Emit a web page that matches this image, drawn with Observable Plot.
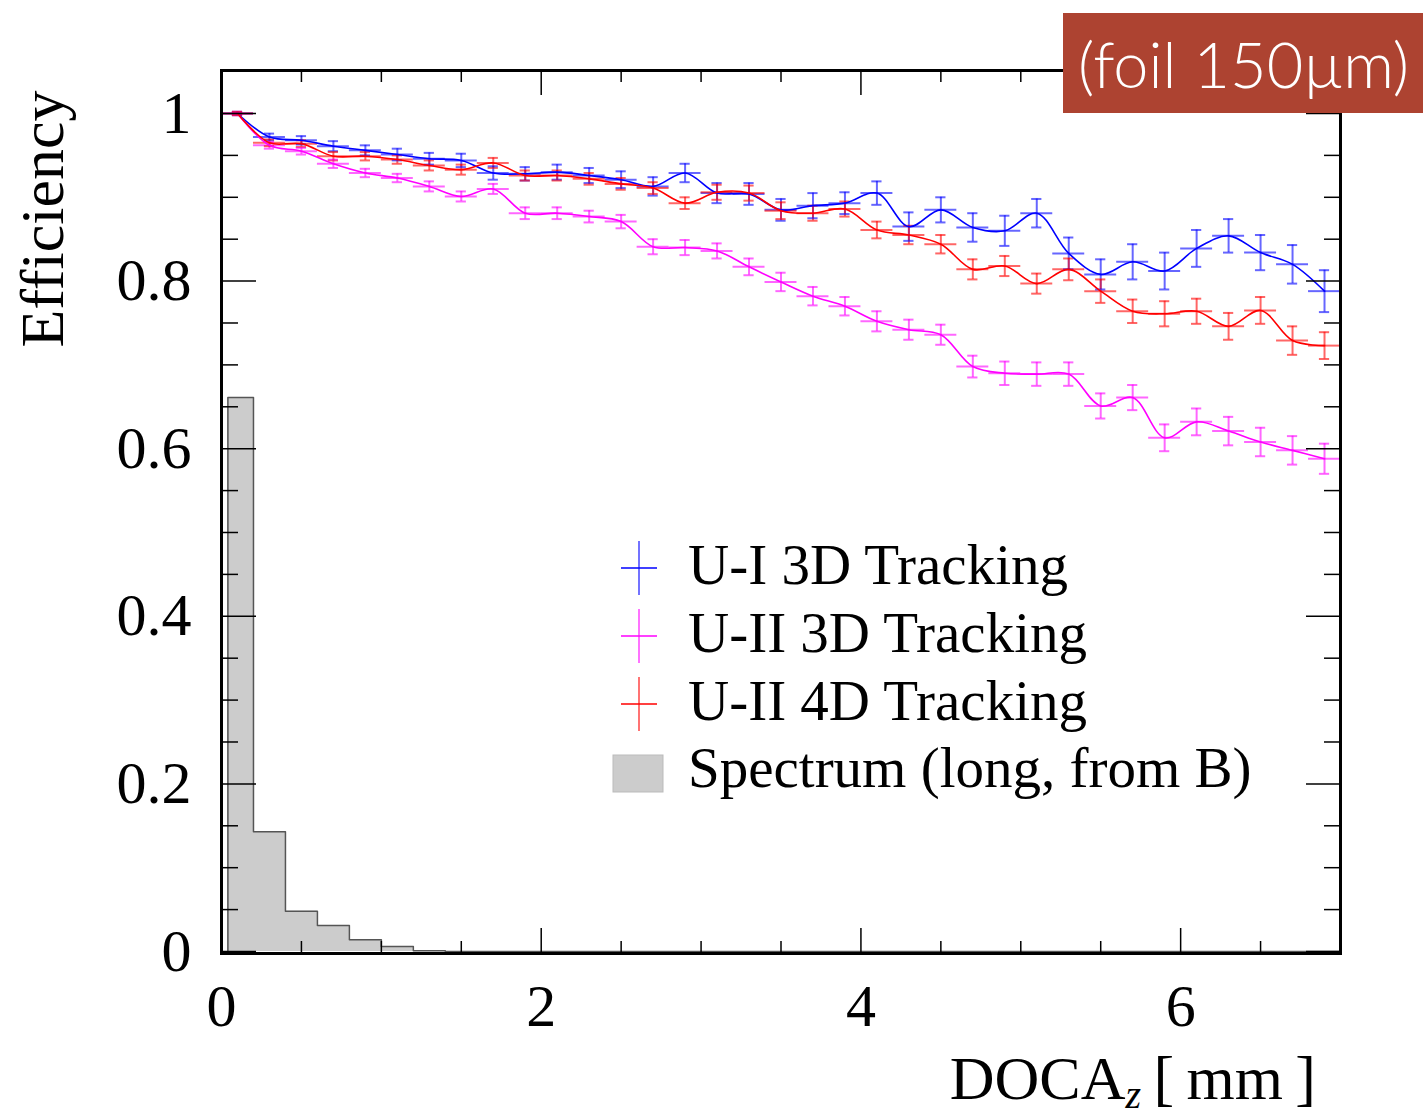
<!DOCTYPE html>
<html>
<head>
<meta charset="utf-8">
<script src="https://cdn.jsdelivr.net/npm/d3@7"></script>
<script src="https://cdn.jsdelivr.net/npm/@observablehq/plot@0.6"></script>
<style>
  body { margin: 0; background: #fff; }
  #wrap { position: relative; width: 1423px; height: 1116px; overflow: hidden; background: #fff; }
</style>
</head>
<body>
<div id="wrap"></div>
<script>
// ---- data ----
const binCenters = [0.1,0.3,0.5,0.7,0.9,1.1,1.3,1.5,1.7,1.9,2.1,2.3,2.5,2.7,2.9,3.1,3.3,3.5,3.7,3.9,4.1,4.3,4.5,4.7,4.9,5.1,5.3,5.5,5.7,5.9,6.1,6.3,6.5,6.7,6.9];
const binHalfWidth = 0.1;

const ui3dEff = [1.000,0.972,0.968,0.961,0.956,0.951,0.946,0.944,0.929,0.928,0.930,0.926,0.921,0.913,0.929,0.905,0.904,0.885,0.890,0.893,0.905,0.865,0.885,0.864,0.860,0.881,0.833,0.808,0.823,0.812,0.839,0.854,0.834,0.820,0.788];
const ui3dErr = [0.002,0.004,0.005,0.006,0.006,0.007,0.007,0.008,0.008,0.008,0.009,0.009,0.010,0.011,0.011,0.012,0.013,0.013,0.015,0.013,0.014,0.017,0.015,0.017,0.018,0.017,0.019,0.018,0.021,0.022,0.022,0.020,0.021,0.023,0.025];

const uii3dEff = [1.000,0.962,0.955,0.940,0.929,0.923,0.913,0.901,0.910,0.881,0.881,0.877,0.871,0.841,0.840,0.836,0.817,0.799,0.782,0.770,0.752,0.742,0.736,0.698,0.690,0.689,0.689,0.651,0.661,0.613,0.632,0.621,0.608,0.598,0.588];
const uii3dErr = [0.002,0.004,0.004,0.005,0.005,0.005,0.006,0.006,0.006,0.007,0.007,0.007,0.008,0.009,0.009,0.009,0.010,0.011,0.011,0.011,0.012,0.012,0.012,0.013,0.014,0.014,0.014,0.015,0.015,0.016,0.016,0.017,0.017,0.017,0.018];

const uii4dEff = [1.000,0.965,0.964,0.949,0.949,0.945,0.938,0.933,0.941,0.926,0.926,0.922,0.916,0.911,0.893,0.906,0.905,0.884,0.881,0.886,0.861,0.855,0.844,0.814,0.818,0.797,0.814,0.788,0.764,0.761,0.764,0.746,0.765,0.729,0.723];
const uii4dErr = [0.002,0.004,0.004,0.005,0.005,0.005,0.006,0.006,0.006,0.006,0.006,0.007,0.007,0.007,0.007,0.009,0.009,0.010,0.009,0.009,0.010,0.011,0.011,0.012,0.012,0.012,0.013,0.014,0.014,0.015,0.015,0.016,0.016,0.017,0.016];

const histEdges = [0.04,0.2,0.4,0.6,0.8,1.0,1.2,1.4,1.6,1.8,2.0,2.2,2.4,2.6,2.8,3.0,3.2,3.4,3.6,3.8,4.0,4.2,4.4,4.6,4.8,5.0,5.2,5.4,5.6,5.8,6.0,6.2,6.4,6.6,6.8,7.0];
const histValues = [0.661,0.143,0.048,0.031,0.014,0.006,0.001,0,0,0,0,0,0,0,0,0,0,0,0,0,0,0,0,0,0,0,0,0,0,0,0,0,0,0,0];

const seriesNames = ["U-I 3D Tracking","U-II 3D Tracking","U-II 4D Tracking"];
const seriesColors = ["#0000ff","#ff00ff","#ff0000"];
const histName = "Spectrum (long, from B)";

const xMajorTicks = [0,2,4,6];
const xMinorTicks = [0.5,1,1.5,2.5,3,3.5,4.5,5,5.5,6.5];
const yMajorTicks = [0,0.2,0.4,0.6,0.8,1.0];
const yMinorTicks = [0.05,0.1,0.15,0.25,0.3,0.35,0.45,0.5,0.55,0.65,0.7,0.75,0.85,0.9,0.95];

// ---- build tables ----
const effSets = [ui3dEff, uii3dEff, uii4dEff];
const errSets = [ui3dErr, uii3dErr, uii4dErr];
const points = [];
seriesNames.forEach((name, s) => {
  binCenters.forEach((x, i) => {
    points.push({series: name, x, y: effSets[s][i], e: errSets[s][i]});
  });
});
const hist = [{x: histEdges[0], y: 0}];
histValues.forEach((v, i) => hist.push({x: histEdges[i], y: v}));
hist.push({x: histEdges[histEdges.length - 1], y: histValues[histValues.length - 1]});

const serif = "'Liberation Serif', 'DejaVu Serif', serif";
const capW = 0.032;
const W = 1423, H = 1116, mL = 221, mR = 83, mT = 70, mB = 163;
const yDomain = [-0.0024, 1.0513];
const pxPerY = (H - mT - mB) / (yDomain[1] - yDomain[0]);

const svg = Plot.plot({
  width: W,
  height: H,
  marginLeft: mL,
  marginRight: mR,
  marginTop: mT,
  marginBottom: mB,
  style: {background: "white", fontFamily: serif},
  x: {domain: [0, 7], label: null},
  y: {domain: yDomain, label: null},
  color: {domain: seriesNames, range: seriesColors},
  marks: [
    // histogram
    Plot.areaY(hist, {x: "x", y: "y", curve: "step-after", fill: "#cccccc"}),
    Plot.lineY(hist, {x: "x", y: "y", curve: "step-after", stroke: "#555", strokeWidth: 1.5}),
    // error bars
    Plot.ruleY(points, {y: "y", x1: d => d.x - binHalfWidth, x2: d => d.x + binHalfWidth, stroke: "series", strokeOpacity: 0.6, strokeWidth: 2}),
    Plot.ruleX(points, {x: "x", y1: d => d.y - d.e, y2: d => d.y + d.e, stroke: "series", strokeOpacity: 0.6, strokeWidth: 2}),
    Plot.ruleY(points, {y: d => d.y - d.e, x1: d => d.x - capW, x2: d => d.x + capW, stroke: "series", strokeOpacity: 0.6, strokeWidth: 2}),
    Plot.ruleY(points, {y: d => d.y + d.e, x1: d => d.x - capW, x2: d => d.x + capW, stroke: "series", strokeOpacity: 0.6, strokeWidth: 2}),
    // smooth curves
    Plot.line(points, {x: "x", y: "y", z: "series", stroke: "series", curve: "catmull-rom", strokeWidth: 1.6}),
    // ticks (inside the frame, all four sides)
    Plot.axisX({anchor: "bottom", ticks: xMajorTicks, tickSize: -25, tickFormat: () => "", strokeWidth: 1.5}),
    Plot.axisX({anchor: "bottom", ticks: xMinorTicks, tickSize: -12, tickFormat: () => "", strokeWidth: 1.5}),
    Plot.ruleX(xMajorTicks, {x: d => d, y1: yDomain[1], y2: yDomain[1] - 25 / pxPerY, stroke: "black", strokeWidth: 1.5}),
    Plot.ruleX(xMinorTicks, {x: d => d, y1: yDomain[1], y2: yDomain[1] - 12 / pxPerY, stroke: "black", strokeWidth: 1.5}),
    Plot.axisY({anchor: "left", ticks: yMajorTicks, tickSize: -35, tickFormat: () => "", strokeWidth: 1.5}),
    Plot.axisY({anchor: "left", ticks: yMinorTicks, tickSize: -17, tickFormat: () => "", strokeWidth: 1.5}),
    Plot.axisY({anchor: "right", ticks: yMajorTicks, tickSize: -35, tickFormat: () => "", strokeWidth: 1.5}),
    Plot.axisY({anchor: "right", ticks: yMinorTicks, tickSize: -17, tickFormat: () => "", strokeWidth: 1.5}),
    // tick labels
    Plot.axisX({anchor: "bottom", ticks: xMajorTicks, tickSize: 0, tickPadding: 30, fontSize: 60, fontFamily: serif, fill: "black", tickFormat: d => String(d)}),
    Plot.axisY({anchor: "left", ticks: yMajorTicks, tickSize: 0, tickPadding: 30, fontSize: 60, fontFamily: serif, fill: "black", tickFormat: d => String(+d.toFixed(1))}),
    Plot.frame({stroke: "black", strokeWidth: 3})
  ]
});

document.getElementById("wrap").appendChild(svg);

// ---- decorations: axis titles, legend, tag ----
const s = d3.select(svg);
s.append("text")
  .attr("transform", "translate(63,219) rotate(-90)")
  .attr("text-anchor", "middle")
  .attr("font-family", serif).attr("font-size", 62).attr("fill", "black")
  .text("Efficiency");

const xl = s.append("text")
  .attr("x", 1316).attr("y", 1099)
  .attr("text-anchor", "end")
  .attr("font-family", serif).attr("font-size", 62).attr("fill", "black");
xl.append("tspan").text("DOCA");
xl.append("tspan").attr("font-style", "italic").attr("font-size", 40).attr("dy", 9).text("z");
xl.append("tspan").attr("dy", -9).text("\u2009[\u2009mm\u2009]");

// legend
const leg = s.append("g").attr("font-family", serif).attr("font-size", 57).attr("fill", "black").attr("text-anchor", "start");
const rowBase = [584, 652, 720, 787];
seriesNames.forEach((name, i) => {
  const cy = rowBase[i] - 16;
  leg.append("line").attr("x1", 639).attr("x2", 639).attr("y1", cy - 27).attr("y2", cy + 27)
    .attr("stroke", seriesColors[i]).attr("stroke-opacity", 0.55).attr("stroke-width", 2);
  leg.append("line").attr("x1", 621).attr("x2", 657).attr("y1", cy).attr("y2", cy)
    .attr("stroke", seriesColors[i]).attr("stroke-width", 1.6);
  leg.append("text").attr("x", 688).attr("y", rowBase[i]).attr("text-anchor", "start").text(name);
});
leg.append("rect").attr("x", 613).attr("y", 755).attr("width", 50).attr("height", 37)
  .attr("fill", "#cccccc").attr("stroke", "#bbb").attr("stroke-width", 1);
leg.append("text").attr("x", 688).attr("y", rowBase[3]).attr("text-anchor", "start").text(histName);

// tag box
s.append("rect").attr("x", 1063).attr("y", 13).attr("width", 360).attr("height", 100).attr("fill", "#ad4331");
s.append("text").attr("x", 1078).attr("y", 88).attr("text-anchor", "start")
  .attr("font-family", "Lato, 'Liberation Sans', sans-serif").attr("font-weight", 300)
  .attr("font-size", 63).attr("fill", "white").text("(foil 150µm)");
</script>
</body>
</html>
